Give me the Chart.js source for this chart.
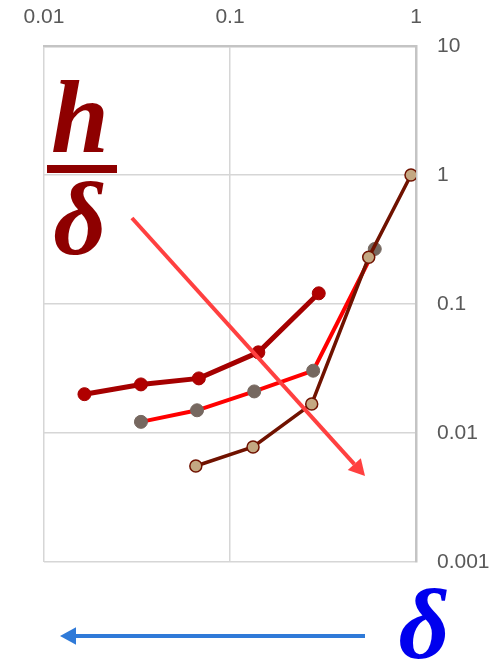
<!DOCTYPE html>
<html>
<head>
<meta charset="utf-8">
<script src="https://cdn.jsdelivr.net/npm/chart.js@4/dist/chart.umd.min.js"></script>
<style>
  html, body { margin: 0; padding: 0; background: #ffffff; }
  canvas { display: block; }
</style>
</head>
<body>
<canvas id="c" width="503" height="661"></canvas>
<script>
// Relative thickness h/δ against δ, three runs
const deltaA = [0.0165, 0.0332, 0.068, 0.142, 0.30];
const ratioA = [0.020, 0.0238, 0.0265, 0.0422, 0.121];

const deltaB = [0.0332, 0.0665, 0.135, 0.28, 0.60];
const ratioB = [0.0122, 0.0150, 0.0210, 0.0304, 0.267];

const deltaC = [0.0655, 0.133, 0.275, 0.557, 0.94];
const ratioC = [0.00555, 0.00779, 0.0168, 0.230, 1.0];

// Trend arrow drawn across the plot (data space)
const trendFrom = { x: 0.0297, y: 0.464 };
const trendTo   = { x: 0.532,  y: 0.00464 };

// Axis ticks
const xTicks = [0.01, 0.1, 1];
const yTicks = [0.001, 0.01, 0.1, 1, 10];

const pts = (xs, ys) => xs.map((x, i) => ({ x, y: ys[i] }));

function arrow(ctx, x1, y1, x2, y2, color, width, head) {
  const ang = Math.atan2(y2 - y1, x2 - x1);
  const bx = x2 - head * Math.cos(ang);
  const by = y2 - head * Math.sin(ang);
  ctx.save();
  ctx.strokeStyle = color;
  ctx.fillStyle = color;
  ctx.lineWidth = width;
  ctx.lineCap = 'butt';
  ctx.beginPath();
  ctx.moveTo(x1, y1);
  ctx.lineTo(bx, by);
  ctx.stroke();
  const w = head * 0.55;
  ctx.beginPath();
  ctx.moveTo(x2, y2);
  ctx.lineTo(bx + w * Math.sin(ang), by - w * Math.cos(ang));
  ctx.lineTo(bx - w * Math.sin(ang), by + w * Math.cos(ang));
  ctx.closePath();
  ctx.fill();
  ctx.restore();
}

const decorations = {
  id: 'decorations',
  afterDatasetsDraw(chart) {
    const { ctx, chartArea: a, scales: { x, y } } = chart;
    // trend arrow
    arrow(ctx,
      x.getPixelForValue(trendFrom.x), y.getPixelForValue(trendFrom.y),
      x.getPixelForValue(trendTo.x), y.getPixelForValue(trendTo.y),
      '#ff4040', 4, 16);
  },
  afterDraw(chart) {
    const { ctx, chartArea: a } = chart;
    ctx.save();
    // h / δ label
    ctx.fillStyle = '#8e0000';
    ctx.textAlign = 'center';
    ctx.textBaseline = 'alphabetic';
    ctx.font = 'italic bold 104px "Liberation Serif", "DejaVu Serif", serif';
    ctx.fillText('h', a.left + 36, a.top + 106);
    ctx.fillRect(a.left + 3, a.top + 119, 70, 8);
    ctx.fillText('δ', a.left + 36, a.top + 208);
    // δ axis hint with arrow pointing to smaller δ
    arrow(ctx, a.right - 51, a.bottom + 74, a.left + 16, a.bottom + 74, '#2f7ad8', 4, 16);
    ctx.fillStyle = '#0000ee';
    ctx.font = 'italic bold 100px "Liberation Serif", "DejaVu Serif", serif';
    ctx.fillText('δ', a.right + 8, a.bottom + 96);
    ctx.restore();
  }
};

new Chart(document.getElementById('c'), {
  type: 'line',
  data: {
    datasets: [
      {
        data: pts(deltaA, ratioA),
        borderColor: '#a50000', borderWidth: 5,
        pointRadius: 6.5, pointBackgroundColor: '#b00000', pointBorderColor: '#a50000', pointBorderWidth: 1,
        order: 3
      },
      {
        data: pts(deltaB, ratioB),
        borderColor: '#ff0000', borderWidth: 4,
        pointRadius: 6.5, pointBackgroundColor: '#766860', pointBorderColor: '#766860', pointBorderWidth: 1,
        order: 2
      },
      {
        data: pts(deltaC, ratioC),
        borderColor: '#701200', borderWidth: 3.5,
        pointRadius: 6, pointBackgroundColor: '#c4a882', pointBorderColor: '#701200', pointBorderWidth: 1.5,
        order: 1
      }
    ]
  },
  options: {
    responsive: false,
    animation: false,
    layout: { padding: { left: 44, right: 0, top: 0, bottom: 99 } },
    plugins: { legend: { display: false }, tooltip: { enabled: false } },
    elements: { line: { tension: 0 } },
    scales: {
      x: {
        type: 'logarithmic', position: 'top', min: 0.01, max: 1,
        afterBuildTicks: s => { s.ticks = xTicks.map(v => ({ value: v })); },
        afterFit: s => { s.height = 46; },
        ticks: {
          callback: v => String(v),
          color: '#595959', padding: 16,
          font: { family: '"Liberation Sans", Arial, sans-serif', size: 21 },
          maxRotation: 0
        },
        grid: { color: '#d6d6d6', lineWidth: 1.5, drawTicks: false },
        border: { color: '#c4c4c4', width: 2.5 }
      },
      y: {
        type: 'logarithmic', position: 'right', min: 0.001, max: 10,
        afterBuildTicks: s => { s.ticks = yTicks.map(v => ({ value: v })); },
        afterFit: s => { s.width = 87; },
        ticks: {
          callback: v => String(v),
          color: '#595959', padding: 21,
          font: { family: '"Liberation Sans", Arial, sans-serif', size: 21 }
        },
        grid: { color: '#d6d6d6', lineWidth: 1.5, drawTicks: false },
        border: { color: '#c4c4c4', width: 2.5 }
      }
    }
  },
  plugins: [decorations]
});
</script>
</body>
</html>
